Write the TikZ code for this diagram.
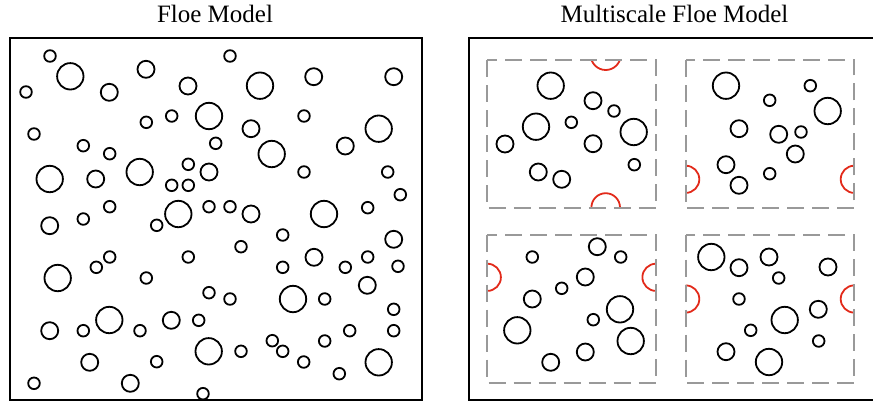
\documentclass[tikz,border=0pt]{standalone}
\usepackage{fontspec}
\setmainfont{Liberation Serif}
\definecolor{subgray}{HTML}{999999}
\definecolor{ghostred}{HTML}{E22A1A}
\begin{document}
\begin{tikzpicture}[x=1pt,y=-1pt,
  frame/.style={draw=black,line width=2pt},
  floe/.style={draw=black,line width=1.8pt},
  subdomain/.style={draw=subgray,line width=2pt,dash pattern=on 17pt off 8pt},
  ghost/.style={draw=ghostred,line width=1.8pt},
  heading/.style={anchor=base,inner sep=0pt,font=\fontsize{25}{30}\selectfont}]
\useasboundingbox (0,0) rectangle (873,402);
\clip (0,0) rectangle (873,402);

% headings
\node[heading] (titleA) at (215,22) {Floe Model};
\node[heading] (titleB) at (674.5,22) {Multiscale Floe Model};

% ---------- single-domain model ----------
\draw[frame] (10,38) rectangle (421.5,400);
\foreach \cx/\cy/\rr in {
  50/56/5.8, 70.3/76.3/13.2, 26/92/5.8, 146/69.3/8.5, 109.3/92.3/8.5,
  230/56/5.8, 188/86/8.5, 209/116/13.2, 171.7/116/5.8, 146.3/122.3/5.8,
  34/134/5.8, 83.3/145.7/5.8, 109.7/153.7/5.8, 215.7/143.3/5.8,
  49.7/179/13.2, 95.7/179/8.5, 139.7/172/13.2, 188.3/164.3/5.8,
  209/172/8.5, 171.7/185.3/5.8, 188.3/185.3/5.8,
  260/85.7/13.2, 313.7/76.7/8.5, 393.7/76.7/8.5, 304/116/5.8,
  378.7/128.7/13.2, 251/128.7/8.5, 271.7/154/13.2, 345.3/146/8.5,
  304/172/5.8, 387.7/172/5.8, 400.3/194.7/5.8,
  109.7/206.7/5.8, 83.3/219/5.8, 49.7/225.7/8.5, 178.3/214/13.2,
  156.7/225.3/5.8, 209/206.7/5.8, 230/206.7/5.8, 109.7/257/5.8,
  96.3/267.3/5.8, 57.7/278/13.2, 146.3/278/5.8, 188.3/257/5.8,
  209/292.7/5.8, 230/299/5.8, 49.7/330.7/8.5, 83.3/330.7/5.8,
  109.3/320/13.2, 140/330.7/5.8, 171.3/320.3/8.5, 198.7/320.3/5.8,
  208.7/351.3/13.2, 89.7/362.3/8.5, 156.7/361.7/5.8, 34/383.3/5.8,
  130.3/383.3/8.5, 203/393.7/5.8,
  251/214/8.5, 324/214/13.2, 367.7/207.7/5.8, 282.7/235/5.8,
  241/246.7/5.8, 393.7/239.3/8.5, 314/257.3/8.5, 367.7/257/5.8,
  282.7/267.3/5.8, 345.3/267.3/5.8, 398/266.3/5.8, 367.3/285.3/8.5,
  293/299/13.2, 324.7/299/5.8, 393.7/309.3/5.8, 349.7/330.7/5.8,
  393.7/330.7/5.8, 272.3/340.7/5.8, 282.7/351.3/5.8, 324.7/341/5.8,
  241/351.3/5.8, 303.7/362/5.8, 378.7/362.3/13.2, 339.3/373.7/5.8}
  \draw[floe] (\cx,\cy) circle (\rr);

% ---------- multiscale model ----------
\draw[frame] (469,38) rectangle (880,400);

% floes of the four subdomains
\foreach \cx/\cy/\rr in {
  % top left
  550.7/85.7/13.2, 593/100.7/8.5, 614/111/5.8, 571.3/122.3/5.8,
  536/126.7/13.2, 633.7/132/13.2, 505/144/8.5, 593/143.7/8.5,
  634.3/164.7/5.8, 538.3/172/8.5, 561.7/179.3/8.5,
  % top right
  726/85.7/13.2, 810.3/85.7/5.8, 769.7/100.3/5.8, 827.7/111/13.2,
  739/128.7/8.5, 778.7/134.3/8.5, 801/132/5.8, 795.3/154/8.5,
  726/164.7/8.5, 769.7/173.7/5.8, 739/185.3/8.5,
  % bottom left
  597.3/246.7/8.5, 532.3/257/5.8, 620.7/257/5.8, 585.3/277/8.5,
  561.7/288.3/5.8, 532.3/299/8.5, 620/309.3/13.2, 593.3/319.7/5.8,
  517.3/330.3/13.2, 630.7/341/13.2, 585.3/352/8.5, 550.7/362.3/8.5,
  % bottom right
  711.3/257/13.2, 739/267.7/8.5, 769/257/8.5, 778.7/278/5.8,
  828/267/8.5, 739/299/5.8, 818.3/309.3/8.5, 784.7/320/13.2,
  750.7/330.3/5.8, 818.7/341/5.8, 726/351.7/8.5, 769/362/13.2}
  \draw[floe] (\cx,\cy) circle (\rr);

% floes crossing subdomain borders
\begin{scope}
  \clip (487.3,60) rectangle (656,208.4);
  \draw[ghost] (605.7,55) circle (15);
  \draw[ghost] (605.7,207.5) circle (14.3);
\end{scope}
\begin{scope}
  \clip (685.7,60) rectangle (854.3,208.4);
  \draw[ghost] (685.7,179.3) circle (13.6);
  \draw[ghost] (854.3,179.3) circle (13.6);
\end{scope}
\begin{scope}
  \clip (487.3,234.7) rectangle (656,383.3);
  \draw[ghost] (487.3,277.3) circle (13.6);
  \draw[ghost] (656,277.3) circle (13.6);
\end{scope}
\begin{scope}
  \clip (685.7,234.7) rectangle (854.3,383.3);
  \draw[ghost] (685.7,299) circle (13.6);
  \draw[ghost] (854.3,299) circle (13.6);
\end{scope}

% subdomain borders
\draw[subdomain] (487.3,60) rectangle (656,208.4);
\draw[subdomain] (685.7,60) rectangle (854.3,208.4);
\draw[subdomain] (487.3,234.7) rectangle (656,383.3);
\draw[subdomain] (685.7,234.7) rectangle (854.3,383.3);
\end{tikzpicture}
\end{document}
